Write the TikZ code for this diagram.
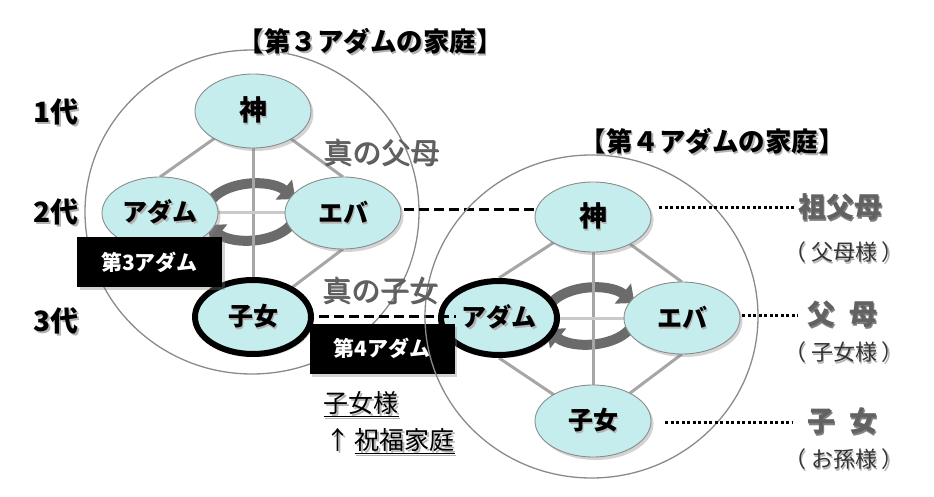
\documentclass[tikz,border=0pt]{standalone}
\usepackage{fontspec}
\setmainfont{Noto Sans CJK JP}
\usetikzlibrary{shapes.geometric,shadows,calc,arrows.meta}
\definecolor{nodecyan}{HTML}{C5EDED}
\definecolor{ringgray}{HTML}{8A8A8A}
\definecolor{linegray}{HTML}{A6A6A6}
\definecolor{labgray}{HTML}{626262}
\newcommand\shd[2][black!30]{\makebox[0pt][l]{\hspace{1.6pt}\raisebox{-1.6pt}{\textcolor{#1}{#2}}}#2}
\begin{document}
\begin{tikzpicture}[x=1pt,y=-1pt,
  ring/.style={draw=ringgray,line width=1.3pt},
  fam/.style={ellipse,draw=black!45,line width=0.9pt,fill=nodecyan,inner sep=0pt,
     minimum width=116pt,minimum height=72pt,
     font=\fontsize{25}{25}\selectfont\bfseries,
     drop shadow={opacity=0.35,shadow xshift=2.5pt,shadow yshift=-3pt}},
  heir/.style={fam,draw=black,line width=6pt,minimum height=74pt},
  crossline/.style={draw=linegray,line width=3pt},
  hcrossline/.style={draw=linegray!60,line width=3pt},
  cyc/.style={draw=black!58,line width=10pt,-{Triangle[length=15pt,width=25pt]}},
  badge/.style={fill=black,text=white,minimum width=145pt,minimum height=50pt,inner sep=0pt,
     font=\fontsize{21}{21}\selectfont\bfseries,
     drop shadow={opacity=0.35,shadow xshift=2.5pt,shadow yshift=-3pt}},
  ttl/.style={font=\fontsize{26.5}{26.5}\selectfont\bfseries},
  gen/.style={font=\fontsize{28}{28}\selectfont\bfseries},
  truelab/.style={text=labgray,font=\fontsize{29}{29}\selectfont},
  rolelab/.style={text=labgray,font=\fontsize{28}{28}\selectfont\bfseries},
  paren/.style={text=black!80,font=\fontsize{22}{22}\selectfont},
  notelab/.style={font=\fontsize{25}{25}\selectfont},
  dashline/.style={draw=black,line width=3pt,dash pattern=on 10pt off 5pt},
  dotline/.style={draw=black,line width=3pt,dash pattern=on 3pt off 2.5pt},
]
\useasboundingbox (0,0) rectangle (934,497);

% ---------- left family ----------
\draw[ring] (252,212) ellipse [x radius=167, y radius=162];
\coordinate (cL) at (251.5,212);
\draw[cyc] ($(cL)+(-46,-2)$) .. controls ($(cL)+(-36,-32)$) and ($(cL)+(18,-34)$) .. ($(cL)+(44,-13)$);
\draw[cyc] ($(cL)+(46,2)$) .. controls ($(cL)+(36,32)$) and ($(cL)+(-18,34)$) .. ($(cL)+(-44,13)$);

\coordinate (shinLc) at (253,111);
\coordinate (adamLc) at (160,213);
\coordinate (ebaLc) at (343,213);
\coordinate (shijoLc) at (253,317);
\draw[crossline] (shinLc) -- (shijoLc);
\draw[hcrossline] (adamLc) -- (ebaLc);
\draw[crossline] (shinLc) -- ($(adamLc)+(0,-36)$);
\draw[crossline] (shinLc) -- ($(ebaLc)+(0,-36)$);
\draw[crossline] ($(adamLc)+(0,36)$) -- (shijoLc);
\draw[crossline] ($(ebaLc)+(0,36)$) -- (shijoLc);

\node[fam,font=\fontsize{28}{28}\selectfont\bfseries,minimum height=74pt] (shinL) at (shinLc) {\shd{神}};
\node[fam] (adamL) at (adamLc) {\shd{アダム}};
\node[fam] (ebaL) at (ebaLc) {\shd{エバ}};
\node[heir] (shijoL) at (shijoLc) {\shd{子女}};
\node[badge] (badge3) at (149.5,262) {第3アダム};

% ---------- right family ----------
\coordinate (cR) at (590.5,316);
\draw[cyc] ($(cR)+(-46,-2)$) .. controls ($(cR)+(-36,-32)$) and ($(cR)+(18,-34)$) .. ($(cR)+(44,-13)$);
\draw[cyc] ($(cR)+(46,2)$) .. controls ($(cR)+(36,32)$) and ($(cR)+(-18,34)$) .. ($(cR)+(-44,13)$);

\coordinate (shinRc) at (593,217);
\coordinate (adamRc) at (499,318);
\coordinate (ebaRc) at (682,318);
\coordinate (shijoRc) at (593,421);
\draw[crossline] (shinRc) -- (shijoRc);
\draw[hcrossline] (adamRc) -- (ebaRc);
\draw[crossline] (shinRc) -- ($(adamRc)+(0,-40)$);
\draw[crossline] (shinRc) -- ($(ebaRc)+(0,-36)$);
\draw[crossline] ($(adamRc)+(0,40)$) -- (shijoRc);
\draw[crossline] ($(ebaRc)+(0,36)$) -- (shijoRc);

\node[fam,font=\fontsize{28}{28}\selectfont\bfseries,minimum height=70pt] (shinR) at (shinRc) {\shd{神}};
\node[heir] (adamR) at (adamRc) {\shd{アダム}};
\node[fam] (ebaR) at (ebaRc) {\shd{エバ}};
\node[fam] (shijoR) at (shijoRc) {\shd{子女}};

% ---------- connecting dashed lines ----------
\draw[dashline] ($(ebaL.east)+(3,-3)$) -- ($(ebaL.east -| shinR.west)+(0,-3)$);
\node[badge] (badge4) at (382,348.5) {第4アダム};
\draw[dashline] ($(shijoL.east)+(5,-1)$) -- ($(shijoL.east -| adamR.west)+(18,-1)$);
\draw[ring] (591.5,316.5) ellipse [x radius=166.5, y radius=161.5];

% ---------- titles and generation labels ----------
\node[ttl] (title3) at (370,42) {\shd{【第３アダムの家庭】}};
\node[ttl] (title4) at (712,142) {\shd{【第４アダムの家庭】}};
\node[gen] (gen1) at (56,113) {\shd{1代}};
\node[gen] (gen2) at (56,213) {\shd{2代}};
\node[gen] (gen3) at (56,322) {\shd{3代}};
\node[truelab] (parents) at (381,153) {\shd[black!65]{真の父母}};
\node[truelab] (children) at (380,291) {\shd[black!65]{真の子女}};
\node[notelab,anchor=west] (sama) at (320,405) {\shd{\underline{子女様}}};
\node[notelab,anchor=west] (blessed) at (322,442) {\shd{↑\,\underline{祝福家庭}}};

% ---------- right-hand role labels ----------
\node[rolelab] (sofubo) at (840,208) {\shd[black!50]{祖父母}};
\node[paren] (fuboSama) at (844,253) {\shd{（\hspace{5pt}父母様\hspace{5pt}）}};
\node[rolelab] (fubo) at (842,315) {\shd[black!50]{父\hspace{14pt}母}};
\node[paren] (shijoSama) at (844,353) {\shd{（\hspace{5pt}子女様\hspace{5pt}）}};
\node[rolelab] (shijo) at (842,422) {\shd[black!50]{子\hspace{14pt}女}};
\node[paren] (omago) at (844,460) {\shd{（\hspace{5pt}お孫様\hspace{5pt}）}};

\draw[dotline] ($(shinR.east |- sofubo.west)+(8,0)$) -- (sofubo.west);
\draw[dotline] ($(ebaR.east |- fubo.west)+(2,0)$) -- ($(fubo.west)+(-5,0)$);
\draw[dotline] ($(shijoR.east |- shijo.west)+(14,0)$) -- ($(shijo.west)+(-10,0)$);
\end{tikzpicture}
\end{document}
